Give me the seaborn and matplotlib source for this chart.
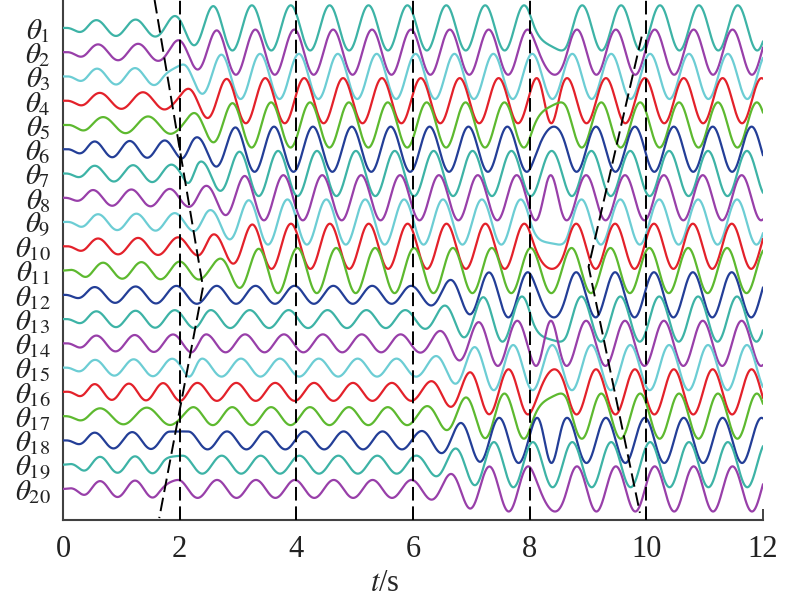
import numpy as np
import pandas as pd
import matplotlib
matplotlib.use('Agg')
import matplotlib.pyplot as plt
import seaborn as sns

# Style
sns.set_style('ticks')
plt.rcParams['font.family'] = ['Liberation Serif', 'DejaVu Serif']
plt.rcParams['mathtext.fontset'] = 'stix'

# ---------------- values ----------------
channels = ['θ%d' % i for i in range(1, 21)]
tick_labels = [r'$\theta_{%d}$' % i for i in range(1, 21)]
colour_cycle = ['#3DB3A6', '#983FA9', '#6CCDD4', '#E3212A', '#5DB92F', '#233E97']

freq = 1.5          # Hz, oscillation after the start-up
t_peak = 0.571      # first crest of theta_1 (s)

# 0-2 s: first crest time and period of every channel
first_peak = [0.571, 0.600, 0.583, 0.629, 0.686, 0.543, 0.543, 0.514, 0.600, 0.600,
              0.686, 0.543, 0.571, 0.571, 0.550, 0.543, 0.634, 0.543, 0.634, 0.634]
period0 = [0.672, 0.686, 0.651, 0.740, 0.771, 0.600, 0.657, 0.657, 0.657, 0.686,
           0.657, 0.700, 0.672, 0.657, 0.660, 0.586, 0.800, 0.643, 0.600, 0.600]

# delay of each channel behind theta_1 (s): 2-8 s and 8-12 s
delay_a = [0.00, 0.06, 0.14, 0.23, 0.33, 0.38, 0.45, 0.54, 0.61, 0.67,
           0.78, 0.73, 0.63, 0.55, 0.48, 0.40, 0.33, 0.24, 0.15, 0.07]
delay_b = [0.33, 0.24, 0.16, 0.07, -0.01, -0.10, -0.18, -0.27, -0.35, -0.44,
           -0.52, -0.44, -0.35, -0.27, -0.18, -0.10, -0.01, 0.07, 0.16, 0.24]

# amplitudes in units of the channel spacing
amp_start = 0.30
amp_small = 0.37
amp_big = 0.93
upper_channels = 11      # theta_1..theta_11 grow at ~2 s, the rest at 6 s
lower_grow = 6.0

# guide lines
switch_times = [2, 4, 6, 8, 10]
v1_t = [1.57, 2.40, 1.65]
v1_y = [21.15, 9.32, -0.20]
v2_t = [9.92, 9.01, 9.89]
v2_y = [19.64, 10.16, 0.01]


def smooth(t, a, b):
    w = np.clip((t - a) / (b - a), 0, 1)
    return w * w * (3 - 2 * w)


# ---------------- build traces ----------------
t = np.linspace(0, 12, 2401)
frames = []
for i, name in enumerate(channels):
    ts = 1.55 + delay_a[i]
    d = delay_b[i] - delay_a[i]
    d = (d + 0.25) % (1 / freq) - 0.25
    lag = delay_a[i] + smooth(t, 8.0, 8.65) * d
    ph_a = 2 * np.pi * freq * (t - t_peak - lag)
    ph_0 = 2 * np.pi * (t - first_peak[i]) / period0[i]
    tm = ts + 0.2
    k = np.round((2 * np.pi * freq * (tm - t_peak - delay_a[i])
                  - 2 * np.pi * (tm - first_peak[i]) / period0[i]) / (2 * np.pi))
    ph_0 = ph_0 + 2 * np.pi * k
    w_a = smooth(t, ts, ts + 0.4)
    phase = (1 - w_a) * ph_0 + w_a * ph_a

    env = smooth(t, 0.0, 0.5) * (amp_start + (amp_small - amp_start) * np.clip(t / 2, 0, 1))
    if i < upper_channels:
        amp = env + (amp_big - env) * smooth(t, ts, ts + 1.2)
    else:
        amp = env + (amp_big - env) * smooth(t, lower_grow, lower_grow + 1.4)
    y = (20 - i) + amp * np.cos(phase)
    frames.append(pd.DataFrame({'t': t, 'value': y, 'channel': name}))

data = pd.concat(frames, ignore_index=True)

# ---------------- plot ----------------
fig = plt.figure(figsize=(8, 5.99), dpi=100)
ax = fig.add_axes([0.07875, 0.1319, 0.875, 0.8681])

palette = [colour_cycle[i % 6] for i in range(20)]
sns.lineplot(data=data, x='t', y='value', hue='channel', hue_order=channels,
             palette=palette, legend=False, estimator=None, linewidth=1.6,
             zorder=3, ax=ax)

for s in switch_times:
    ax.axvline(s, color='black', lw=1.4, dashes=(7, 3), zorder=4)
ax.plot(v1_t, v1_y, color='black', lw=1.4, dashes=(7, 3), zorder=4, clip_on=False)
ax.plot(v2_t, v2_y, color='black', lw=1.4, dashes=(7, 3), zorder=4, clip_on=False)

ax.set_xlim(0, 12)
ax.set_ylim(-0.28, 21.15)
ax.set_xticks(range(0, 13, 2))
ax.set_xticklabels([str(v) for v in range(0, 13, 2)], fontsize=22)
ax.set_yticks([20 - i for i in range(20)])
ax.set_yticklabels(tick_labels, fontsize=21)
ax.tick_params(axis='x', direction='in', length=8, width=1.2, pad=11, colors='#222222')
ax.tick_params(axis='y', direction='in', length=0, pad=9, colors='#222222')
ax.set_xlabel(r'$t$/s', fontsize=22)
ax.xaxis.set_label_coords(0.46, -0.095)
ax.set_ylabel('')

sns.despine(ax=ax)
for side in ['left', 'bottom']:
    ax.spines[side].set_color('#404040')
    ax.spines[side].set_linewidth(1.5)

fig.savefig('out.png', dpi=100)
